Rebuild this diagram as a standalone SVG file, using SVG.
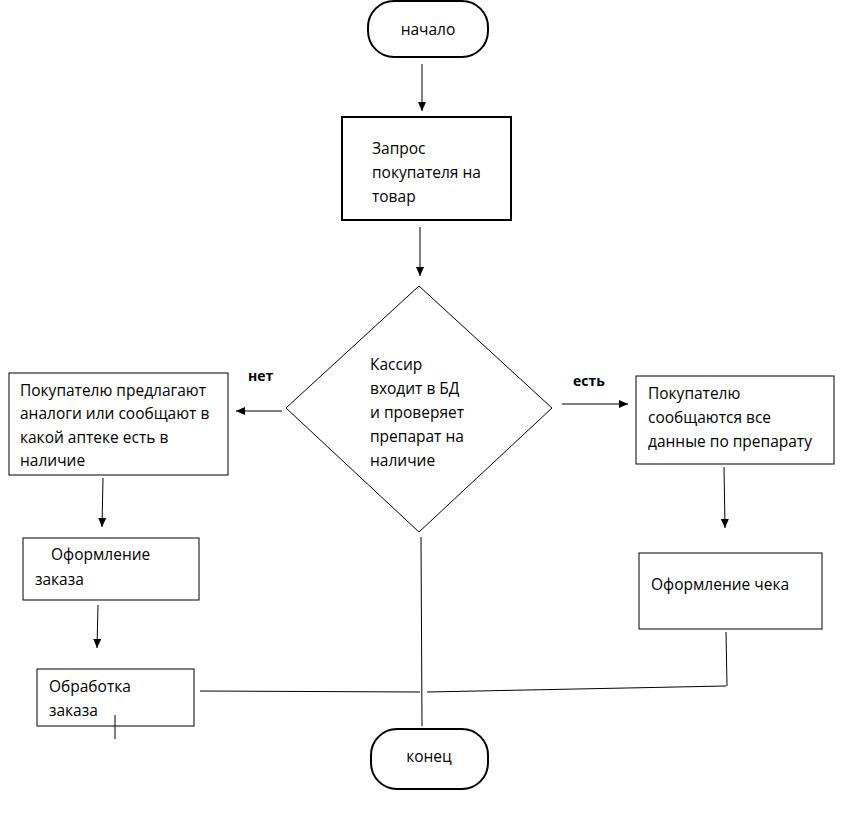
<svg xmlns="http://www.w3.org/2000/svg" width="844" height="817" viewBox="0 0 844 817">
<style>
.t{font-family:"Open Sans","Noto Sans","Liberation Sans",sans-serif;font-size:15.5px;fill:#000}
.b{font-family:"Open Sans","Liberation Sans",sans-serif;font-size:14px;font-weight:bold;fill:#000}
.box{fill:#fff;stroke:#000;stroke-width:1}
.thick{fill:#fff;stroke:#000;stroke-width:2}
.c{fill:none;stroke:#000;stroke-width:1}
.ca{fill:none;stroke:#000;stroke-width:1;marker-end:url(#ah)}
</style>
<defs>
<marker id="ah" markerWidth="10" markerHeight="10" refX="9" refY="4" orient="auto" markerUnits="userSpaceOnUse">
<path d="M0,0 L9,4 L0,8 Z" fill="#000"/>
</marker>
</defs>
<rect width="844" height="817" fill="#fff"/>
<g id="start">
<rect class="thick" x="368" y="1" width="120" height="56" rx="26"/>
<text class="t" x="428" y="35" text-anchor="middle">начало</text>
</g>
<g id="request">
<rect class="thick" x="342" y="117" width="169" height="103"/>
<text class="t" x="372" y="154">Запрос</text>
<text class="t" x="372" y="178">покупателя на</text>
<text class="t" x="372" y="202">товар</text>
</g>
<g id="decision">
<polygon class="box" points="419,286 552,408 419,532 286,408"/>
<text class="t" x="370" y="370">Кассир</text>
<text class="t" x="370" y="394">входит в БД</text>
<text class="t" x="370" y="418">и проверяет</text>
<text class="t" x="370" y="442">препарат на</text>
<text class="t" x="370" y="466">наличие</text>
</g>
<g id="label-no"><text class="b" x="248" y="381">нет</text></g>
<g id="label-yes"><text class="b" x="573" y="386">есть</text></g>
<g id="analogs">
<rect class="box" x="9" y="373" width="219" height="102"/>
<text class="t" x="20" y="396">Покупателю предлагают</text>
<text class="t" x="20" y="419">аналоги или сообщают в</text>
<text class="t" x="20" y="443">какой аптеке есть в</text>
<text class="t" x="20" y="466">наличие</text>
</g>
<g id="data">
<rect class="box" x="636" y="376" width="198" height="88"/>
<text class="t" x="648" y="399">Покупателю</text>
<text class="t" x="648" y="423">сообщаются все</text>
<text class="t" x="648" y="447">данные по препарату</text>
</g>
<g id="order">
<rect class="box" x="23" y="538" width="176" height="62"/>
<text class="t" x="51" y="560">Оформление</text>
<text class="t" x="35" y="585">заказа</text>
</g>
<g id="receipt">
<rect class="box" x="639" y="553" width="183" height="76"/>
<text class="t" x="651" y="590">Оформление чека</text>
</g>
<g id="processing">
<rect class="box" x="37" y="669" width="157" height="57"/>
<text class="t" x="49" y="692">Обработка</text>
<text class="t" x="49" y="716">заказа</text>
</g>
<g id="end">
<rect class="thick" x="371" y="729" width="117" height="60" rx="26"/>
<text class="t" x="429" y="762" text-anchor="middle">конец</text>
</g>
<g id="connectors">
<line class="ca" x1="422" y1="64" x2="422" y2="111"/>
<line class="ca" x1="420" y1="227" x2="420" y2="276"/>
<line class="ca" x1="282" y1="411" x2="236" y2="411"/>
<line class="ca" x1="562" y1="404" x2="628" y2="404"/>
<line class="ca" x1="724" y1="467" x2="725" y2="528"/>
<line class="ca" x1="103" y1="478" x2="102" y2="527"/>
<line class="ca" x1="98" y1="605" x2="97" y2="648"/>
<line class="c" x1="421" y1="537" x2="422" y2="726"/>
<line class="c" x1="200" y1="691" x2="420" y2="692"/>
<line class="c" x1="427" y1="692" x2="726" y2="686"/>
<line class="c" x1="726" y1="632" x2="727" y2="686"/>
<line class="c" x1="115" y1="715" x2="115" y2="739"/>
</g>
</svg>
